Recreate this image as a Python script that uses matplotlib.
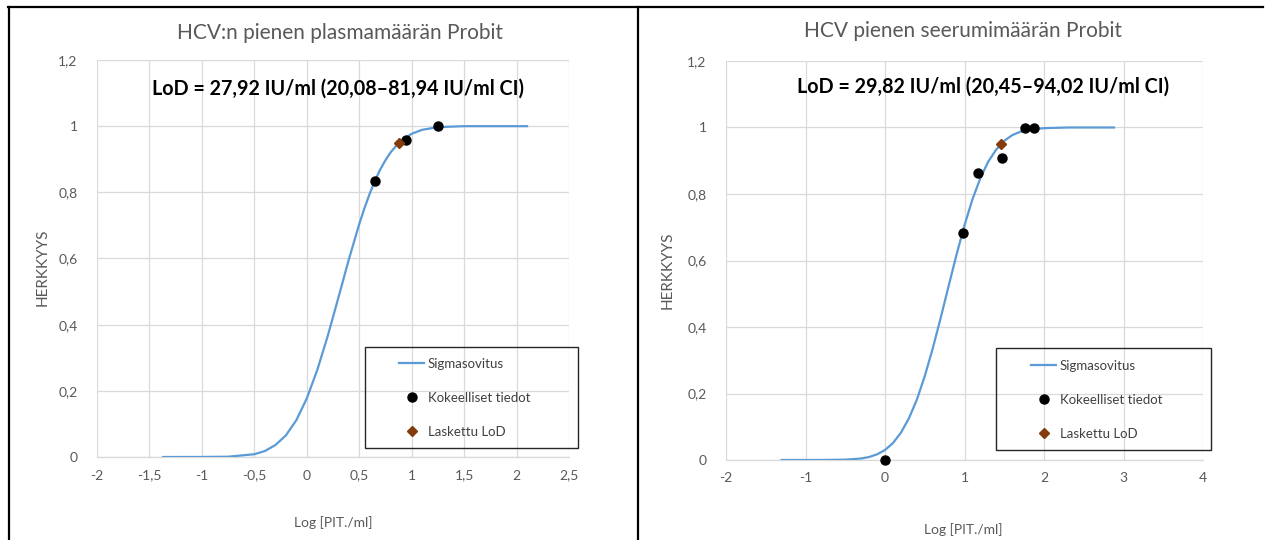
import matplotlib
matplotlib.use('Agg')
import matplotlib.pyplot as plt
from matplotlib.lines import Line2D
from matplotlib.patches import Rectangle
from matplotlib.ticker import FuncFormatter, MultipleLocator

plt.rcParams['font.family'] = ['Lato', 'DejaVu Sans']

# Left chart: plasma
plasma_fit_x = [-1.37, -1.0, -0.75, -0.5, -0.4, -0.3, -0.2, -0.1, 0.0, 0.1, 0.2, 0.3,
                0.4, 0.5, 0.55, 0.6, 0.65, 0.7, 0.75, 0.8, 0.85, 0.9, 1.0, 1.1, 1.25, 1.5, 2.1]
plasma_fit_y = [0.0, 0.0001, 0.0009, 0.0084, 0.018, 0.036, 0.065, 0.111, 0.177, 0.263, 0.366, 0.480,
                0.596, 0.704, 0.752, 0.796, 0.835, 0.869, 0.897, 0.921, 0.940, 0.956, 0.977, 0.989,
                0.997, 1.0, 1.0]
plasma_obs_x = [0.65, 0.95, 1.25]
plasma_obs_y = [0.833, 0.957, 1.0]
plasma_lod = (0.88, 0.95)

# Right chart: serum
serum_fit_x = [-1.3, -0.8, -0.5, -0.3, -0.2, -0.1, 0.0, 0.1, 0.2, 0.3, 0.4, 0.5, 0.6, 0.7,
               0.8, 0.9, 1.0, 1.1, 1.2, 1.3, 1.4, 1.5, 1.6, 1.7, 1.8, 2.0, 2.3, 2.88]
serum_fit_y = [0.0, 0.0001, 0.001, 0.0045, 0.009, 0.017, 0.030, 0.051, 0.082, 0.125, 0.181, 0.252,
               0.335, 0.427, 0.523, 0.618, 0.706, 0.784, 0.848, 0.898, 0.934, 0.960, 0.977, 0.987,
               0.993, 0.998, 1.0, 1.0]
serum_obs_x = [0.0, 0.98, 1.17, 1.47, 1.76, 1.87]
serum_obs_y = [0.0, 0.682, 0.864, 0.909, 1.0, 1.0]
serum_lod = (1.46, 0.95)

W, H = 1266, 540
fig = plt.figure(figsize=(W / 100, H / 100), dpi=100)

grey_text = '#595959'
grid_col = '#D9D9D9'


def fmt(v, pos):
    s = ('%g' % round(v, 2)).replace('.', ',')
    return '0' if s in ('-0', '0') else s


def make_panel(rect, xlim, xstep, fit_x, fit_y, obs_x, obs_y, lod, title, lod_text,
               title_xy, lod_xy, xlabel_xy, ylabel_xy, legend_box, legend_anchor):
    ax = fig.add_axes([rect[0] / W, 1 - rect[3] / H, (rect[2] - rect[0]) / W, (rect[3] - rect[1]) / H])
    ax.plot(fit_x, fit_y, color='#5B9BD5', lw=1.6, label='Sigmasovitus', zorder=3)
    ax.plot(obs_x, obs_y, 'o', color='black', ms=6.5, label='Kokeelliset tiedot',
            clip_on=False, zorder=4)
    ax.plot([lod[0]], [lod[1]], 'D', color='#843C0C', ms=5, label='Laskettu LoD', zorder=5)
    ax.set_xlim(*xlim)
    ax.set_ylim(0, 1.2)
    ax.xaxis.set_major_locator(MultipleLocator(xstep))
    ax.yaxis.set_major_locator(MultipleLocator(0.2))
    ax.xaxis.set_major_formatter(FuncFormatter(fmt))
    ax.yaxis.set_major_formatter(FuncFormatter(fmt))
    ax.grid(True, color=grid_col, lw=0.9)
    ax.set_axisbelow(True)
    for s in ['top', 'right', 'left']:
        ax.spines[s].set_visible(False)
    ax.spines['bottom'].set_color(grid_col)
    ax.spines['bottom'].set_linewidth(0.9)
    ax.tick_params(length=0, colors=grey_text, labelsize=10)
    ax.tick_params(axis='x', pad=9)
    ax.tick_params(axis='y', pad=14)

    fig.text(title_xy[0] / W, 1 - title_xy[1] / H, title, ha='center', va='center',
             fontsize=15, color=grey_text)
    fig.text(lod_xy[0] / W, 1 - lod_xy[1] / H, lod_text, ha='center', va='center',
             fontsize=14.2, fontweight='bold', color='black')
    fig.text(xlabel_xy[0] / W, 1 - xlabel_xy[1] / H, 'Log [PIT./ml]', ha='center', va='center',
             fontsize=10, color=grey_text)
    fig.text(ylabel_xy[0] / W, 1 - ylabel_xy[1] / H, 'HERKKYYS', ha='center', va='center',
             rotation=90, fontsize=11, color=grey_text)

    # legend frame drawn separately, entries placed inside it
    x0, y0, x1, y1 = legend_box
    fig.add_artist(Rectangle((x0 / W, 1 - y1 / H), (x1 - x0) / W, (y1 - y0) / H,
                             transform=fig.transFigure, fill=False, edgecolor='#262626', lw=1.0))
    ax.legend(loc='upper left', bbox_to_anchor=(legend_anchor[0] / W, 1 - legend_anchor[1] / H),
              bbox_transform=fig.transFigure, fontsize=9.5, frameon=False,
              handlelength=1.9, handletextpad=0.3, labelspacing=1.65,
              borderpad=0, borderaxespad=0, labelcolor='#404040')
    return ax


make_panel((97, 60, 569, 457), (-2, 2.5), 0.5, plasma_fit_x, plasma_fit_y,
           plasma_obs_x, plasma_obs_y, plasma_lod,
           'HCV:n pienen plasmamäärän Probit', 'LoD = 27,92 IU/ml (20,08–81,94 IU/ml CI)',
           (340, 33), (338, 89), (333, 523), (43, 267), (365, 347, 578, 448), (399, 358))

make_panel((726, 61, 1203, 460), (-2, 4), 1, serum_fit_x, serum_fit_y,
           serum_obs_x, serum_obs_y, serum_lod,
           'HCV pienen seerumimäärän Probit', 'LoD = 29,82 IU/ml (20,45–94,02 IU/ml CI)',
           (963, 31), (983, 87), (963, 530), (668, 270), (996, 348, 1211, 450), (1031, 360))

# panel borders
fig.add_artist(Line2D([8 / W, 1263 / W], [1 - 7 / H, 1 - 7 / H], color='black', lw=1.6))
fig.add_artist(Line2D([9 / W, 9 / W], [0, 1 - 7 / H], color='black', lw=1.6))
fig.add_artist(Line2D([638 / W, 638 / W], [0, 1 - 7 / H], color='black', lw=1.6))

fig.savefig('out.png', dpi=100)
